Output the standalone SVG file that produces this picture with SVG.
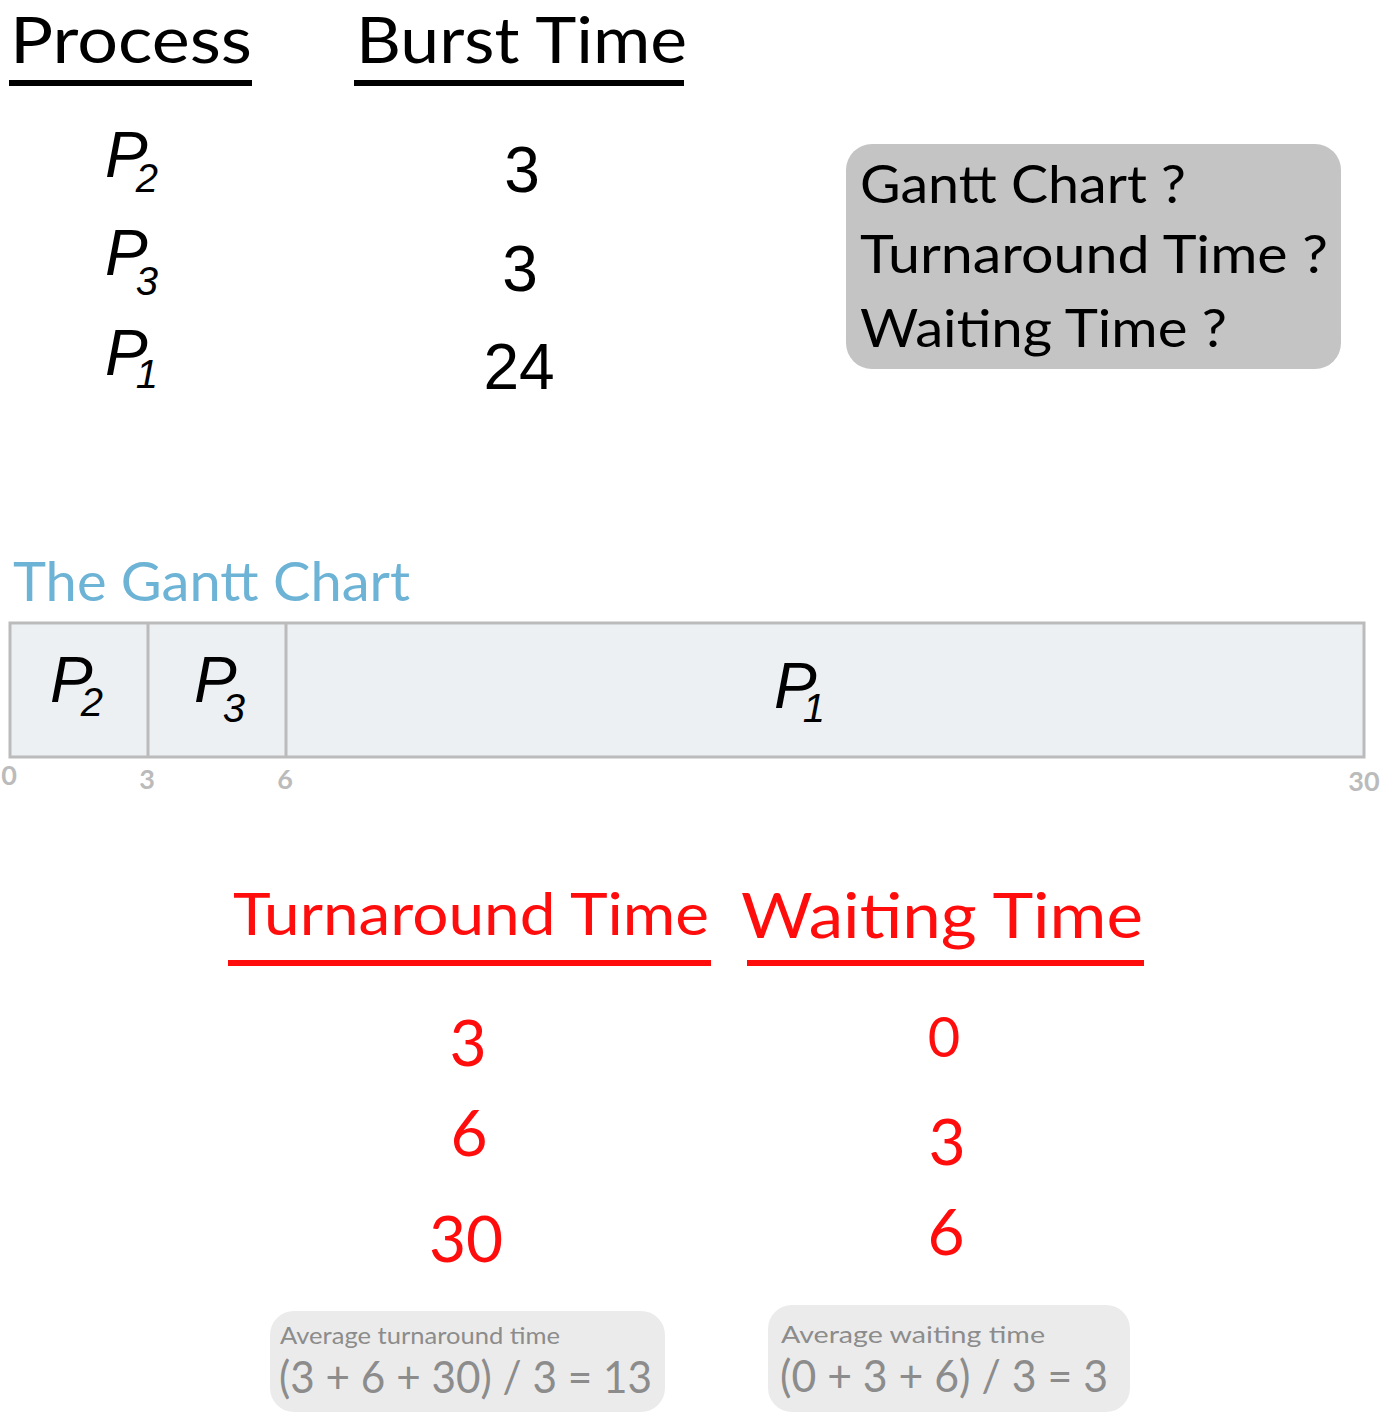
<svg xmlns="http://www.w3.org/2000/svg" width="1383" height="1413" viewBox="0 0 1383 1413">
<style>
.r{font-family:Lato,"Open Sans","Liberation Sans",sans-serif;}
.h{font-size:64px;fill:#000;}
.pi{font-family:"Liberation Sans",Arial,sans-serif;font-style:italic;fill:#000;}
.num{font-family:"Liberation Sans",Arial,sans-serif;font-size:64px;fill:#000;}
.q{font-size:53px;fill:#000;}
.red{fill:#ff0d0d;}
.tick{font-size:27px;fill:#bbbbbb;font-weight:bold;}
.avg{fill:#8c8c8c;}
</style>
<rect width="1383" height="1413" fill="#ffffff"/>
<g id="header">
<text class="r h" x="10" y="63" textLength="242" lengthAdjust="spacingAndGlyphs">Process</text>
<rect x="9" y="80" width="243" height="6" fill="#000"/>
<text class="r h" x="356" y="63" textLength="331" lengthAdjust="spacingAndGlyphs">Burst Time</text>
<rect x="354" y="80" width="330" height="6" fill="#000"/>
</g>
<g id="table">
<text class="pi" x="105" y="177" font-size="64">P<tspan font-size="40" dx="-12" dy="15">2</tspan></text>
<text class="pi" x="105" y="275" font-size="64">P<tspan font-size="40" dx="-12" dy="20">3</tspan></text>
<text class="pi" x="105" y="375" font-size="64">P<tspan font-size="40" dx="-12" dy="13">1</tspan></text>
<text class="num" x="522" y="192" text-anchor="middle">3</text>
<text class="num" x="520" y="291" text-anchor="middle">3</text>
<text class="num" x="519" y="389" text-anchor="middle">24</text>
</g>
<g id="questions">
<rect x="846" y="144" width="495" height="225" rx="26" fill="#c4c4c4"/>
<text class="r q" x="860" y="203" textLength="326" lengthAdjust="spacingAndGlyphs">Gantt Chart ?</text>
<text class="r q" x="860" y="273" textLength="468" lengthAdjust="spacingAndGlyphs">Turnaround Time ?</text>
<text class="r q" x="860" y="347" textLength="367" lengthAdjust="spacingAndGlyphs">Waiting Time ?</text>
</g>
<g id="gantt">
<text class="r" x="13" y="601" font-size="54" fill="#6cb3d6" textLength="397" lengthAdjust="spacingAndGlyphs">The Gantt Chart</text>
<rect x="10" y="623" width="1354" height="134" fill="#ecf0f3" stroke="#bbbbbb" stroke-width="3"/>
<line x1="148" y1="623" x2="148" y2="757" stroke="#bbbbbb" stroke-width="3"/>
<line x1="286" y1="623" x2="286" y2="757" stroke="#bbbbbb" stroke-width="3"/>
<text class="pi" x="50" y="702" font-size="64">P<tspan font-size="40" dx="-12" dy="14">2</tspan></text>
<text class="pi" x="194" y="702" font-size="64">P<tspan font-size="40" dx="-14" dy="20">3</tspan></text>
<text class="pi" x="774" y="708" font-size="64">P<tspan font-size="40" dx="-14" dy="14">1</tspan></text>
<text class="r tick" x="9" y="785" text-anchor="middle">0</text>
<text class="r tick" x="147" y="789" text-anchor="middle">3</text>
<text class="r tick" x="285" y="789" text-anchor="middle">6</text>
<text class="r tick" x="1364" y="791" text-anchor="middle">30</text>
</g>
<g id="results">
<text class="r red" x="233" y="935" font-size="58" textLength="476" lengthAdjust="spacingAndGlyphs">Turnaround Time</text>
<rect x="228" y="960" width="483" height="6" fill="#ff0d0d"/>
<text class="r red" x="741" y="938" font-size="62" textLength="402" lengthAdjust="spacingAndGlyphs">Waiting Time</text>
<rect x="747" y="960" width="397" height="6" fill="#ff0d0d"/>
<text class="r red" x="468" y="1066" font-size="64" text-anchor="middle">3</text>
<text class="r red" x="469" y="1156" font-size="64" text-anchor="middle">6</text>
<text class="r red" x="466" y="1262" font-size="64" text-anchor="middle">30</text>
<text class="r red" x="944" y="1057" font-size="56" text-anchor="middle">0</text>
<text class="r red" x="947" y="1165" font-size="64" text-anchor="middle">3</text>
<text class="r red" x="946" y="1255" font-size="64" text-anchor="middle">6</text>
</g>
<g id="avg-turnaround">
<rect x="270" y="1311" width="395" height="101" rx="24" fill="#ebebeb"/>
<text class="r avg" x="280" y="1344" font-size="24" textLength="280" lengthAdjust="spacingAndGlyphs">Average turnaround time</text>
<text class="r avg" x="279" y="1393" font-size="44" textLength="373" lengthAdjust="spacingAndGlyphs">(3 + 6 + 30) / 3 = 13</text>
</g>
<g id="avg-waiting">
<rect x="768" y="1305" width="362" height="107" rx="24" fill="#ebebeb"/>
<text class="r avg" x="781" y="1343" font-size="24" textLength="264" lengthAdjust="spacingAndGlyphs">Average waiting time</text>
<text class="r avg" x="780" y="1392" font-size="44" textLength="328" lengthAdjust="spacingAndGlyphs">(0 + 3 + 6) / 3 = 3</text>
</g>
</svg>
